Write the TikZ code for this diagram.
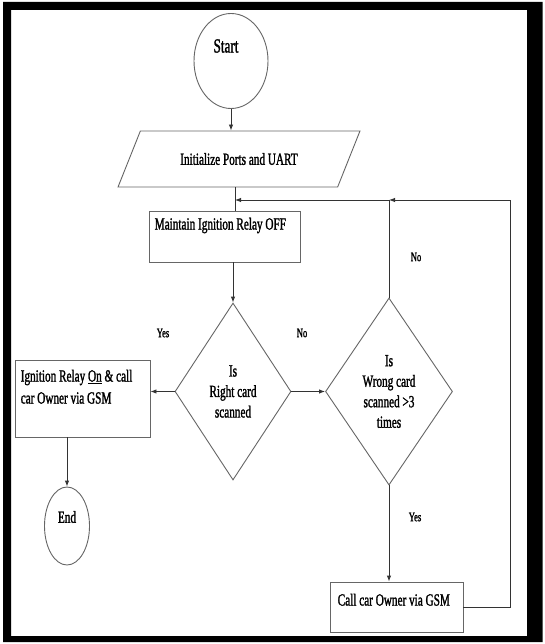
\documentclass[tikz,border=0pt]{standalone}
\usepackage{fontspec}
\setmainfont{Liberation Serif}
\newfontfamily\fc{Liberation Serif}[FakeStretch=0.66,FakeBold=1.4]
\usetikzlibrary{shapes.geometric,arrows.meta,calc}
\begin{document}
\begin{tikzpicture}[x=1pt,y=-1pt,
  shp/.style={draw=black!60,line width=0.9pt,inner sep=0pt,font=\fc\fontsize{17}{20.5}\selectfont},
  boxs/.style={shp,rectangle},
  dia/.style={shp,diamond,align=center},
  elli/.style={shp,ellipse},
  con/.style={draw=black!80,line width=0.9pt},
  arr/.style={con,-{Latex[length=6pt,width=4.5pt]}},
  lbl/.style={font=\fc\fontsize{13}{15}\selectfont,inner sep=0pt},
  inl/.style={anchor=north west,inner sep=0pt,align=left,font=\fc\fontsize{17}{22}\selectfont}
]
\useasboundingbox (0,0) rectangle (544,644);
\fill[white] (0,0) rectangle (544,644);
\fill[black,even odd rule] (3,2) rectangle (542.5,642) (11,10) rectangle (527,636);

\node[elli,minimum width=74,minimum height=95] (start) at (231,61) {};
\node[inner sep=0pt,font=\fc\fontsize{20}{22}\selectfont] (starttxt) at (226,46) {Start};
\node[shp,trapezium,trapezium left angle=42,trapezium right angle=138,
  trapezium stretches=true,minimum width=242,minimum height=56] (init) at (239,159) {Initialize Ports and UART};
\node[boxs,minimum width=151,minimum height=51,
  label={[inl,xshift=6pt,yshift=-7pt]north west:Maintain Ignition Relay OFF}] (maint) at (224.5,236.5) {};
\node[dia,minimum width=116,minimum height=177] (right) at (233,391.5) {Is\\Right card\\scanned};
\node[boxs,minimum width=135,minimum height=77,
  label={[inl,xshift=6pt,yshift=-10pt]north west:Ignition Relay \underline{On} \& call\\car Owner via GSM}] (ign) at (82.5,398.5) {};
\node[elli,minimum width=45,minimum height=78,
  label={[inner sep=0pt,yshift=9pt,font=\fc\fontsize{17}{19}\selectfont]center:End}] (end) at (67,526) {};
\node[dia,minimum width=127,minimum height=187] (wrong) at (389,391.5) {Is\\Wrong card\\scanned >3\\times};
\node[boxs,minimum width=133,minimum height=50,
  label={[inl,xshift=8pt,yshift=-12pt]north west:Call car Owner via GSM}] (call) at (396.5,607) {};

\coordinate (j1) at (235,200);
\coordinate (j2) at (389,200);
\coordinate (c1) at (510,200);

\draw[arr] (start.south) -- (start.south |- init.north);
\draw[con] (j1 |- init.south) -- (j1 |- maint.north);
\draw[arr] (right.north |- maint.south) -- (right.north);
\draw[arr] (right.west) -- (right.west -| ign.east);
\draw[arr] (right.east) -- (wrong.west);
\draw[arr] (end.north |- ign.south) -- (end.north);
\draw[arr] (wrong.south) -- (wrong.south |- call.north);
\draw[con] (wrong.north) -- (j2);
\draw[arr] (call.east) -| (c1) -- (j2);
\draw[arr] (j2) -- (j1);

\node[lbl] (yes1) at (163,333) {Yes};
\node[lbl] (no1) at (302,333) {No};
\node[lbl] (no2) at (416,257) {No};
\node[lbl] (yes2) at (415,517) {Yes};
\end{tikzpicture}
\end{document}
